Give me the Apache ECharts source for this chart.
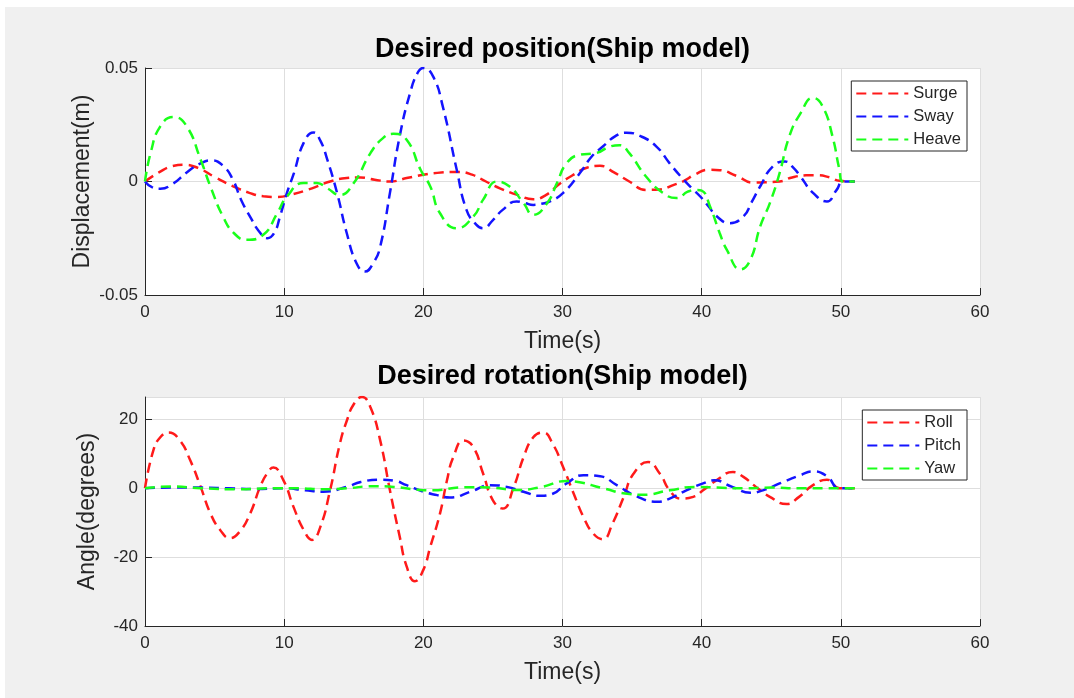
<!DOCTYPE html>
<html>
<head>
<meta charset="utf-8">
<title>Desired position and rotation (Ship model)</title>
<script src="https://cdn.jsdelivr.net/npm/echarts@6/dist/echarts.min.js"></script>
<style>
  html, body { margin: 0; padding: 0; background: #ffffff; }
  #chart { width: 1074px; height: 698px; }
</style>
</head>
<body>
<div id="chart"></div>
<script>
// ---- Translational motion (m) ----
const surgeT = [0, 1, 2, 2.8, 3.8, 5, 6.3, 7.5, 8.5, 9.5, 10.5, 12, 13.3, 14.5, 15.5, 16.5, 17.6, 18.8, 20, 21, 22.5, 23.5, 24.5, 25.5, 26.8, 27.9, 28.8, 29.8, 30.8, 31.8, 32.7, 33.7, 34.8, 36, 37, 38, 38.7, 39.5, 40.5, 41.3, 42.5, 43.7, 44.6, 45.6, 46.5, 47.5, 48.3, 49.2, 49.9, 51];
const surgeV = [0, 0.004, 0.0068, 0.0074, 0.006, 0.002, -0.002, -0.005, -0.0065, -0.0068, -0.0058, -0.003, 0, 0.0015, 0.0018, 0.0008, 0, 0.0015, 0.003, 0.0038, 0.0042, 0.003, 0, -0.003, -0.006, -0.0078, -0.006, -0.001, 0.003, 0.0062, 0.0069, 0.004, 0, -0.0037, -0.0035, -0.0015, 0.0002, 0.003, 0.0052, 0.005, 0.0025, -0.0005, -0.0003, 0, 0.0018, 0.0027, 0.0028, 0.0018, 0.0003, 0];

const swayT = [0, 0.5, 1.1, 2, 3, 4, 4.8, 5.6, 6.3, 6.9, 7.6, 8.2, 8.8, 9.3, 9.7, 10.2, 10.7, 11.4, 12.1, 12.6, 13.1, 13.8, 14.5, 15.2, 15.8, 16.4, 16.9, 17.6, 18.3, 19.05, 19.6, 20, 20.7, 21.4, 22.4, 23.1, 23.8, 24.3, 25, 25.7, 26.7, 27.3, 27.9, 28.5, 29.1, 30.05, 31.25, 32.1, 32.9, 33.8, 34.6, 35.6, 36.75, 37.7, 38.5, 39.3, 39.9, 40.5, 41.1, 42, 43, 43.6, 44.2, 45.1, 46, 46.6, 47.1, 48, 49, 49.7, 50.15, 51];
const swayV = [0, -0.0025, -0.0032, -0.001, 0.004, 0.008, 0.0093, 0.007, 0.001, -0.008, -0.016, -0.022, -0.025, -0.0225, -0.0154, -0.005, 0.0037, 0.017, 0.0216, 0.018, 0.0096, -0.005, -0.0228, -0.036, -0.0397, -0.036, -0.0287, -0.005, 0.0199, 0.039, 0.048, 0.05, 0.0463, 0.033, 0.0052, -0.0125, -0.019, -0.0206, -0.017, -0.0125, -0.0088, -0.0095, -0.0103, -0.0098, -0.0088, -0.005, 0.0037, 0.011, 0.0154, 0.02, 0.0215, 0.02, 0.0154, 0.008, 0.0022, -0.003, -0.0066, -0.011, -0.0154, -0.0184, -0.0154, -0.009, -0.0022, 0.0066, 0.0088, 0.006, 0.0022, -0.005, -0.0088, -0.0037, 0, 0];

const heaveT = [0, 0.4, 1.1, 2.05, 3, 4, 4.7, 5.6, 6.4, 7.3, 8.5, 9.5, 10.2, 11.4, 12.35, 13.1, 14, 15, 16.2, 17.1, 17.85, 18.8, 19.8, 20.5, 21.2, 22.4, 23.6, 24.3, 25.3, 26.2, 27.2, 27.9, 28.9, 29.6, 30.3, 31.25, 32.4, 33.4, 34.1, 34.8, 36, 37.2, 38.2, 39, 39.6, 40, 40.6, 41.3, 41.8, 42.8, 43.5, 44.2, 44.9, 45.6, 46.3, 47.1, 48, 48.7, 49.4, 49.9, 50.15, 51];
const heaveV = [0, 0.0125, 0.0243, 0.0284, 0.0243, 0.0096, -0.0022, -0.0154, -0.0228, -0.0257, -0.0235, -0.014, -0.0066, -0.0007, -0.0007, -0.003, -0.0059, -0.0007, 0.0125, 0.0191, 0.021, 0.0184, 0.0052, -0.0022, -0.014, -0.0206, -0.0154, -0.008, 0, -0.0022, -0.0095, -0.0147, -0.0095, -0.0007, 0.0081, 0.0118, 0.0125, 0.0154, 0.016, 0.0125, 0.0022, -0.005, -0.0073, -0.0045, -0.0037, -0.004, -0.011, -0.0228, -0.03, -0.0387, -0.0345, -0.0199, -0.0095, 0.0037, 0.0199, 0.03, 0.0368, 0.033, 0.0199, 0.0052, 0, 0];

// ---- Rotational motion (degrees) ----
const rollT = [0, 0.6, 1.1, 1.7, 2.5, 3.25, 4, 4.7, 5.4, 6.1, 6.8, 7.56, 8.27, 8.76, 9.23, 9.95, 10.67, 11.4, 12, 12.6, 13.3, 14, 14.5, 15, 15.6, 16.2, 16.9, 17.6, 18.3, 18.8, 19.4, 20, 20.5, 21.2, 21.7, 22.15, 22.9, 23.6, 24.3, 25, 25.7, 26.5, 27.2, 27.9, 28.6, 29.3, 30.05, 30.8, 31.5, 32.2, 32.9, 33.6, 34.4, 35.1, 36.15, 37, 37.7, 38.5, 39.4, 40.1, 41.06, 42.25, 43, 43.9, 44.9, 46.1, 47, 48, 49, 49.9, 51];
const rollV = [0, 11, 14.8, 16.2, 13.9, 8.1, 0.4, -7.3, -12.1, -14.5, -12.6, -7.3, 0.4, 4.2, 6, 2.3, -5.4, -12.1, -15, -11.2, -0.6, 12.9, 19.6, 24.4, 26.5, 23.5, 13.9, -0.6, -14, -22.7, -27, -23.7, -17, -7.3, 2.3, 9, 13.9, 11.9, 4.2, -3.5, -5.9, 0.4, 9, 14.8, 16.2, 12.9, 6.1, -1.5, -8.3, -13.1, -14.8, -10.2, -2.5, 4.2, 7.6, 4.2, -0.6, -3, -2.5, -0.6, 2.3, 4.7, 3.3, 0.4, -2.5, -4.6, -2.5, 0.9, 2.5, 0, 0];

const pitchT = [0, 2, 4, 6, 8, 10, 11.5, 12.8, 14.5, 15.5, 16.9, 17.9, 18.8, 20, 21, 21.9, 23.4, 24.8, 26, 27.2, 28.4, 29.3, 30.3, 31.5, 32.7, 33.9, 35.3, 36.8, 37.7, 38.9, 40.1, 40.9, 42.2, 43.5, 44.4, 45.6, 47.1, 48, 49, 49.9, 51];
const pitchV = [0, 0.2, 0.2, 0, -0.2, 0, -0.6, -1, 0.4, 1.8, 2.5, 2.2, 0.9, -1, -2, -2.7, -1, 0.9, 0.4, -1, -2.2, -1.6, 1.4, 3.8, 3.5, 0.9, -2.3, -3.9, -3, -0.6, 1.4, 2.3, 0.4, -1.3, -0.6, 1.4, 3.8, 4.9, 3.5, 0, 0];

const yawT = [0, 1.9, 4, 6.8, 9.2, 11, 12.8, 14.5, 16.4, 17.9, 19.3, 20.7, 22.9, 24.8, 26.7, 28.4, 30.3, 31, 32.9, 34.8, 35.8, 37.7, 39.6, 41.1, 43, 45, 47, 49, 51];
const yawV = [0, 0.5, 0, -0.3, 0, 0, -0.3, 0, 0.6, 0.4, -0.3, -0.6, 0.3, 0.2, -0.5, 0.3, 2.1, 1.9, 0, -1.7, -1.9, -0.6, 0.4, 0.2, 0, 0.2, 0, 0, 0];

// ---- Axis ticks ----
const timeTicks = { min: 0, max: 60, interval: 10 };
const dispTicks = { min: -0.05, max: 0.05, interval: 0.05 };
const angleTicks = { min: -40, max: 26.5, interval: 20 };

const FONT = '"Liberation Sans", Arial, Helvetica, sans-serif';
const INK = '#262626';
const DASH = [10, 6];

function pairs(ts, vs) { return ts.map((t, i) => [t, vs[i]]); }

function lineSeries(name, ts, vs, color, gridIdx) {
  return {
    name, type: 'line',
    xAxisIndex: gridIdx, yAxisIndex: gridIdx,
    data: pairs(ts, vs),
    symbol: 'none', showSymbol: false,
    smooth: 0.5,
    lineStyle: { color, width: 2.5, type: DASH },
    itemStyle: { color },
    emphasis: { disabled: true },
    animation: false
  };
}

function timeAxis(gridIdx) {
  return {
    type: 'value', gridIndex: gridIdx,
    min: timeTicks.min, max: timeTicks.max, interval: timeTicks.interval,
    name: 'Time(s)', nameLocation: 'middle', nameGap: 35, nameMoveOverlap: false,
    nameTextStyle: { fontFamily: FONT, fontSize: 23, color: INK },
    axisLine: { show: true, onZero: false, lineStyle: { color: INK, width: 1 } },
    axisTick: { show: true, inside: true, length: 7, lineStyle: { color: INK } },
    axisLabel: { fontFamily: FONT, fontSize: 17, color: INK, margin: 9 },
    splitLine: { show: true, lineStyle: { color: '#dedede', width: 1 } }
  };
}

function valueAxis(gridIdx, ticks, name, fmt, gap) {
  return {
    type: 'value', gridIndex: gridIdx,
    min: ticks.min, max: ticks.max, interval: ticks.interval,
    name, nameLocation: 'middle', nameGap: gap, nameMoveOverlap: false,
    nameTextStyle: { fontFamily: FONT, fontSize: 23, color: INK },
    axisLine: { show: true, onZero: false, lineStyle: { color: INK, width: 1 } },
    axisTick: { show: true, inside: true, length: 7, lineStyle: { color: INK } },
    axisLabel: { fontFamily: FONT, fontSize: 17, color: INK, margin: 7, formatter: fmt, showMaxLabel: gridIdx === 0 },
    splitLine: { show: true, lineStyle: { color: '#dedede', width: 1 } }
  };
}

const dispFmt = v => (Math.abs(v) < 1e-9 ? '0' : String(Math.round(v * 1000) / 1000));
const angleFmt = v => String(Math.round(v));

const legendBase = {
  orient: 'vertical',
  itemWidth: 52, itemHeight: 14, itemGap: 6,
  padding: [4, 6, 3, 4],
  borderColor: INK, borderWidth: 1,
  backgroundColor: '#ffffff',
  // only the dashed line sample, no marker in the legend
  itemStyle: { color: 'rgba(0,0,0,0)', borderColor: 'rgba(0,0,0,0)', borderWidth: 0, opacity: 0 },
  textStyle: { fontFamily: FONT, fontSize: 16.5, color: INK, lineHeight: 17 },
  selectedMode: false
};

const chart = echarts.init(document.getElementById('chart'), null, { renderer: 'canvas' });
chart.setOption({
  animation: false,
  backgroundColor: '#ffffff',
  graphic: [{
    type: 'rect', z: -100, silent: true,
    shape: { x: 5, y: 7, width: 1069, height: 691 },
    style: { fill: '#f0f0f0' }
  }],
  title: [
    { text: 'Desired position(Ship model)', left: 562.5, top: 36, textAlign: 'center', padding: 0,
      textStyle: { fontFamily: FONT, fontSize: 27, fontWeight: 'bold', color: '#000' } },
    { text: 'Desired rotation(Ship model)', left: 562.5, top: 363, textAlign: 'center', padding: 0,
      textStyle: { fontFamily: FONT, fontSize: 27, fontWeight: 'bold', color: '#000' } }
  ],
  grid: [
    { left: 145, right: 94, top: 68, bottom: 403, show: true, backgroundColor: '#ffffff', borderWidth: 0 },
    { left: 145, right: 94, top: 397, bottom: 72, show: true, backgroundColor: '#ffffff', borderWidth: 0 }
  ],
  xAxis: [timeAxis(0), timeAxis(1)],
  yAxis: [
    valueAxis(0, dispTicks, 'Displacement(m)', dispFmt, 51),
    valueAxis(1, angleTicks, 'Angle(degrees)', angleFmt, 46)
  ],
  legend: [
    Object.assign({}, legendBase, { data: ['Surge', 'Sway', 'Heave'], right: 107, top: 81 }),
    Object.assign({}, legendBase, { data: ['Roll', 'Pitch', 'Yaw'], right: 107, top: 410 })
  ],
  series: [
    lineSeries('Surge', surgeT, surgeV, '#ff1a1a', 0),
    lineSeries('Sway', swayT, swayV, '#1414ff', 0),
    lineSeries('Heave', heaveT, heaveV, '#1aff1a', 0),
    lineSeries('Roll', rollT, rollV, '#ff1a1a', 1),
    lineSeries('Pitch', pitchT, pitchV, '#1414ff', 1),
    lineSeries('Yaw', yawT, yawV, '#1aff1a', 1)
  ]
});
</script>
</body>
</html>
